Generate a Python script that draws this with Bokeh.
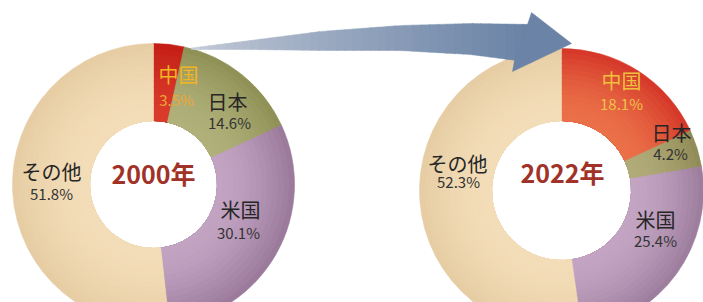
import numpy as np
from bokeh.plotting import figure
from bokeh.models import ColumnDataSource, Range1d
from bokeh.core.properties import value
from bokeh.embed import file_html
from bokeh.resources import INLINE

# ---------------- data ----------------
categories = ["中国", "日本", "米国", "その他"]
share_2000 = [3.5, 14.6, 30.1, 51.8]
share_2022 = [18.1, 4.2, 25.4, 52.3]
years = ["2000年", "2022年"]

# ---------------- styles ----------------
inner_cols_2000 = ["#d93a2a", "#b0b17a", "#c2a3c2", "#f3ddb8"]
outer_cols_2000 = ["#c41e16", "#8f9157", "#9b7a9b", "#e6cda4"]
inner_cols_2022 = ["#ea7048", "#b0ab78", "#c3a5c3", "#f3ddb8"]
outer_cols_2022 = ["#d6392a", "#928c58", "#9e7e9e", "#e6cda4"]
name_cols = ["#f2b523", "#262626", "#262626", "#262626"]
pct_cols = ["#f0a535", "#333333", "#333333", "#333333"]
name_cols_2022 = ["#efc03e", "#262626", "#262626", "#262626"]
pct_cols_2022 = ["#efc24a", "#333333", "#333333", "#333333"]
year_color = "#a03228"
FONT = "Noto Sans CJK JP"

# layout (reference pixel coords, y downward)
PAGE_W, PAGE_H = 703, 302
centers = [(153, 184), (561, 190)]
outer_r = [141, 142]
inner_r = [64, 70]
name_pos = [
    [(178, 74), (227, 101), (240, 209), (51, 171)],
    [(621, 80), (671, 132), (655, 219), (457, 163)],
]
pct_pos = [
    [(176, 99), (229, 122), (238, 232), (51, 193)],
    [(621, 103), (670, 153), (655, 240), (458, 181)],
]
year_pos = [(153, 172), (562, 171)]


def Y(py):
    return PAGE_H - py


def hex2rgb(h):
    h = h.lstrip("#")
    return np.array([int(h[i:i + 2], 16) for i in (0, 2, 4)], dtype=float)


def mix(c1, c2, t):
    c = hex2rgb(c1) * (1 - t) + hex2rgb(c2) * t
    return "#%02x%02x%02x" % tuple(int(round(v)) for v in c)


p = figure(width=PAGE_W, height=PAGE_H, x_range=Range1d(0, PAGE_W), y_range=Range1d(0, PAGE_H),
           output_backend="svg", toolbar_location=None, min_border=0)
p.axis.visible = False
p.grid.visible = False
p.outline_line_color = None
p.background_fill_color = "white"
p.border_fill_color = "white"

datasets = [share_2000, share_2022]
inner_sets = [inner_cols_2000, inner_cols_2022]
outer_sets = [outer_cols_2000, outer_cols_2022]
name_sets = [name_cols, name_cols_2022]
pct_sets = [pct_cols, pct_cols_2022]

N_RINGS = 14
for k, shares in enumerate(datasets):
    vals = np.array(shares, dtype=float)
    cum = np.concatenate([[0], np.cumsum(vals)]) / vals.sum()
    start = np.pi / 2 - cum[:-1] * 2 * np.pi
    end = np.pi / 2 - cum[1:] * 2 * np.pi
    cx, cy = centers[k]
    R, r0 = outer_r[k], inner_r[k]
    for i in range(N_RINGS):
        t = 1 - i / (N_RINGS - 1)
        rr = R - (R - r0) * i / N_RINGS
        cols = [mix(a, b, t ** 1.6) for a, b in zip(inner_sets[k], outer_sets[k])]
        src = ColumnDataSource(dict(x=[cx] * len(vals), y=[Y(cy)] * len(vals),
                                    start=start, end=end, color=cols))
        p.annular_wedge(x="x", y="y", inner_radius=r0, outer_radius=rr,
                        start_angle="start", end_angle="end", direction="clock",
                        fill_color="color", line_color="color", line_width=0.6,
                        source=src)

    # labels
    tsrc = ColumnDataSource(dict(
        x=[q[0] for q in name_pos[k]], y=[Y(q[1]) for q in name_pos[k]],
        text=categories, color=name_sets[k]))
    p.text(x="x", y="y", text="text", text_color="color", source=tsrc,
           text_font=value(FONT), text_font_size="20px",
           text_align="center", text_baseline="middle")
    psrc = ColumnDataSource(dict(
        x=[q[0] for q in pct_pos[k]], y=[Y(q[1]) for q in pct_pos[k]],
        text=[f"{v:.1f}%" for v in shares], color=pct_sets[k]))
    p.text(x="x", y="y", text="text", text_color="color", source=psrc,
           text_font=value(FONT), text_font_size="15px",
           text_align="center", text_baseline="middle")
    p.text(x=[year_pos[k][0]], y=[Y(year_pos[k][1])], text=[years[k]],
           text_color=year_color, text_font=value(FONT), text_font_size="25px",
           text_font_style="bold", text_align="center", text_baseline="middle")

# ---------------- arrow (gradient shaft + head) ----------------
shaft_x = np.array([191, 250, 320, 400, 470, 531])
shaft_top = np.array([47.5, 40, 31, 25, 23, 24])
shaft_bot = np.array([49, 49, 50, 50, 54, 62])
head = [(527, 24), (531, 12), (571, 43), (512, 71), (514, 60)]
col_start, col_end = "#c6ccd8", "#6a83a6"

n_strips = 40
xs_edges = np.linspace(shaft_x[0], shaft_x[-1], n_strips + 1)
strip_xs, strip_ys, strip_cols = [], [], []
for j in range(n_strips):
    xa, xb = xs_edges[j], min(xs_edges[j + 1] + 0.6, shaft_x[-1])
    ta, tb = np.interp([xa, xb], shaft_x, shaft_top)
    ba, bb = np.interp([xa, xb], shaft_x, shaft_bot)
    strip_xs.append([xa, xb, xb, xa])
    strip_ys.append([Y(ta), Y(tb), Y(bb), Y(ba)])
    tt = (j / (n_strips - 1)) ** 0.8
    strip_cols.append(mix(col_start, col_end, tt))
p.patches(xs=strip_xs, ys=strip_ys, fill_color=strip_cols, line_color=strip_cols,
          line_width=0.5)
p.patch(x=[q[0] for q in head], y=[Y(q[1]) for q in head],
        fill_color=col_end, line_color=col_end, line_width=0.5)

open("out.html", "w").write(file_html(p, INLINE))
